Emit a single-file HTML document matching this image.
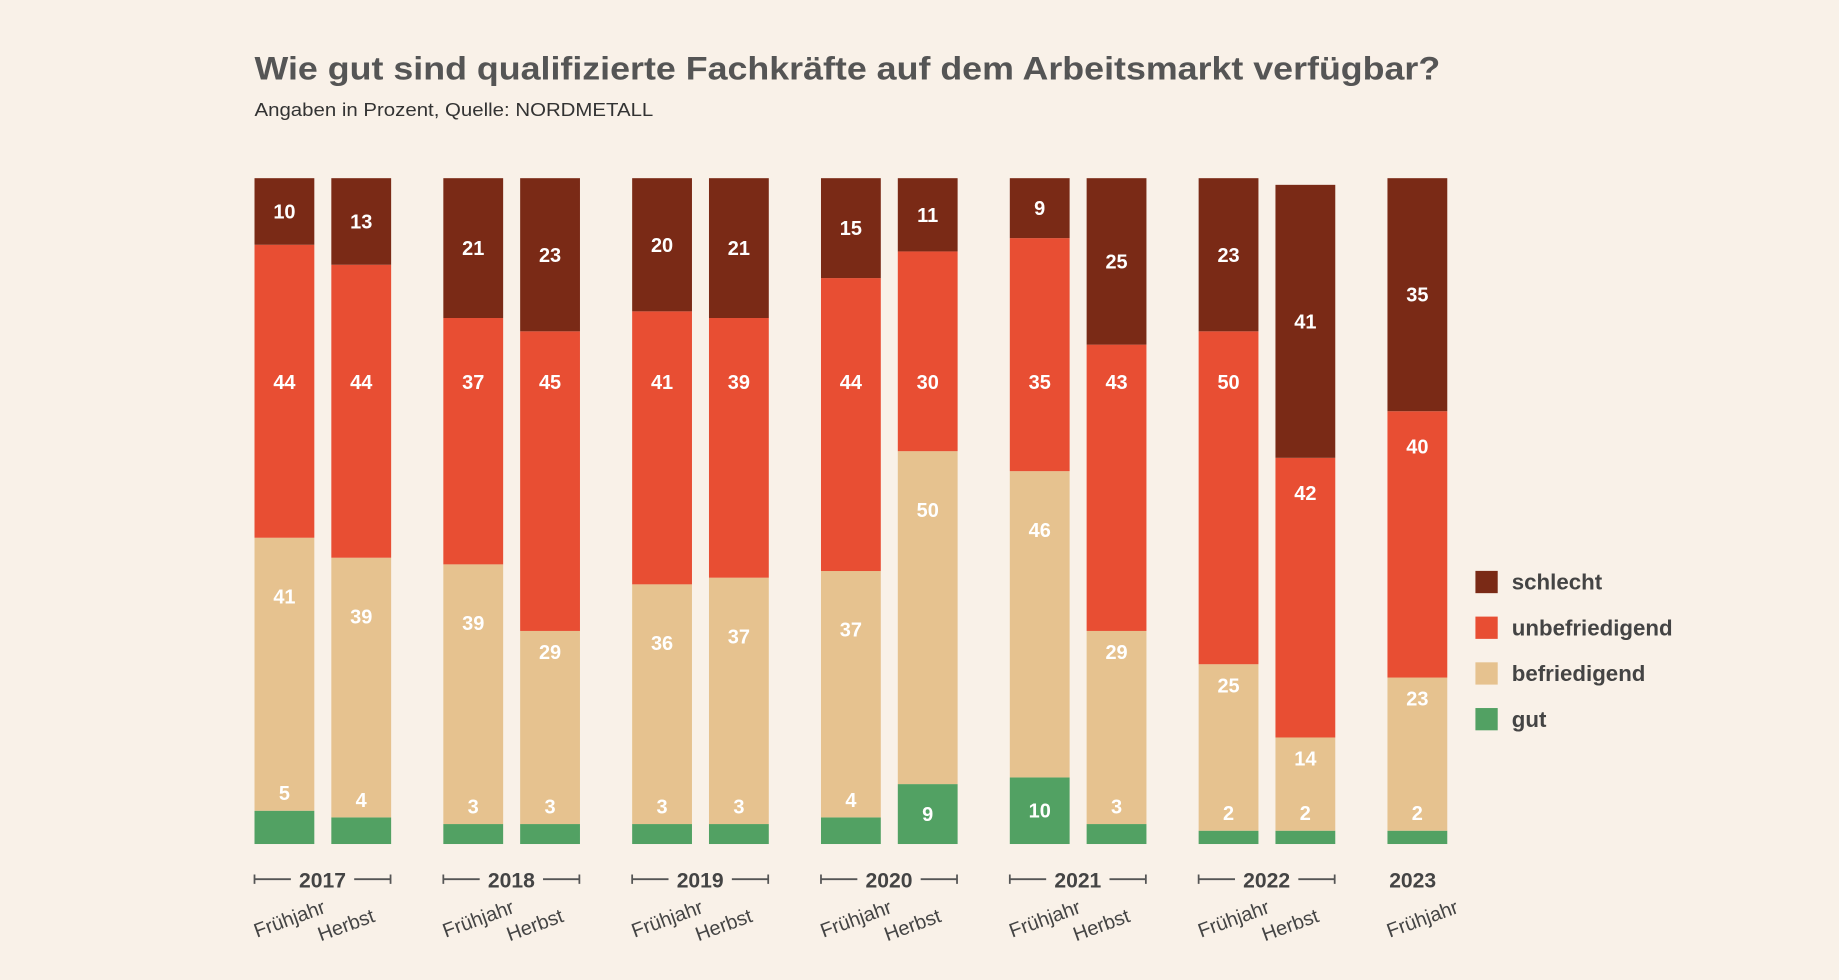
<!DOCTYPE html>
<html><head><meta charset="utf-8"><style>
html,body{margin:0;padding:0;background:#f9f1e8;}
svg{display:block;font-family:"Liberation Sans","DejaVu Sans",sans-serif;}
</style></head><body>
<svg id="c" width="1839" height="980" viewBox="0 0 1568 836" preserveAspectRatio="none">
<rect width="1568" height="836" fill="#f9f1e8"/>
<text x="217" y="68" font-size="28" font-weight="bold" fill="#555" textLength="1011" lengthAdjust="spacingAndGlyphs">Wie gut sind qualifizierte Fachkräfte auf dem Arbeitsmarkt verfügbar?</text>
<text x="217" y="99" font-size="16" fill="#333" textLength="340" lengthAdjust="spacingAndGlyphs">Angaben in Prozent, Quelle: NORDMETALL</text>
<g id="bars"></g><g id="labels"></g><g id="axis"></g><g id="legend"></g>
</svg>
<script>
const years=["2017","2018","2019","2020","2021","2022","2023"];
const seasons=["Frühjahr","Herbst"];
const gut=[5,4,3,3,3,3,4,9,10,3,2,2,2];
const befriedigend=[41,39,39,29,36,37,37,50,46,29,25,14,23];
const unbefriedigend=[44,44,37,45,41,39,44,30,35,43,50,42,40];
const schlecht=[10,13,21,23,20,21,15,11,9,25,23,41,35];
const seriesNames=["gut","befriedigend","unbefriedigend","schlecht"];
const colors=["#52a163","#e6c28f","#e84e33","#7a2a16"];
const NS="http://www.w3.org/2000/svg";
function mk(t,a,p){const e=document.createElementNS(NS,t);for(const k in a)e.setAttribute(k,a[k]);p.appendChild(e);return e;}
const yTop=152,yBottom=720,bw=51;
function yS(v){return yBottom-v*(yBottom-yTop)/100;}
function xB(i){const g=Math.floor(i/2),s=i%2;return 217+g*161+s*65.5;}
const series=[gut,befriedigend,unbefriedigend,schlecht];
const bars=document.getElementById('bars');
const labels=document.getElementById('labels');
for(let i=0;i<gut.length;i++){
  let cum=0;const x=xB(i);
  for(let s=0;s<4;s++){
    const v=series[s][i];const y1=yS(cum),y2=yS(cum+v);
    const r=mk('rect',{x:x,y:y2,width:bw,height:y1-y2,fill:colors[s]},bars);
    
    
    let c=(y1+y2)/2;
    if(s==0&&v<6)c=y2-15;
    if(s==1)c=v<30?y2+18:Math.min(c,y2+50);
    if(s==2)c=Math.max(326,y2+30);
    const t=mk('text',{x:x+bw/2,y:c+6,'text-anchor':'middle','font-size':17,'font-weight':'bold',fill:'#fff'},labels);
    t.textContent=v;
    
    
    cum+=v;
  }
}
const ax=document.getElementById('axis');
for(let g=0;g<years.length;g++){
  const x0=xB(g*2),cx=x0+58;
  const hasH=g*2+1<gut.length;
  const t=mk('text',{x:hasH?cx:x0+bw/2-4,y:757,'text-anchor':'middle','font-size':18,'font-weight':'bold',fill:'#444'},ax);
  t.textContent=years[g];
  
  
  if(hasH){
    const x1=x0+116;
    const p=mk('path',{d:`M${x0} 750H${cx-27}M${cx+27} 750H${x1}M${x0} 746V754M${x1} 746V754`,stroke:'#555','stroke-width':1.5,fill:'none'},ax);
    
    
  }
  for(let s=0;s<(hasH?2:1);s++){
    const lx=xB(g*2+s)+(s==0?2:-9),ly=s==0?800:803;
    const st=mk('text',{x:lx,y:ly,'font-size':17,fill:'#444',transform:`rotate(-20 ${lx} ${ly})`},ax);
    st.textContent=seasons[s];
    
    
  }
}
const lg=document.getElementById('legend');
for(let s=3;s>=0;s--){
  const y=487+(3-s)*39;
  const r=mk('rect',{x:1258,y:y,width:19,height:19,fill:colors[s]},lg);
  
  
  const t=mk('text',{x:1289,y:y+16,'font-size':19,'font-weight':'bold',fill:'#444'},lg);
  t.textContent=seriesNames[s];
  
  
}
</script>
</body></html>
